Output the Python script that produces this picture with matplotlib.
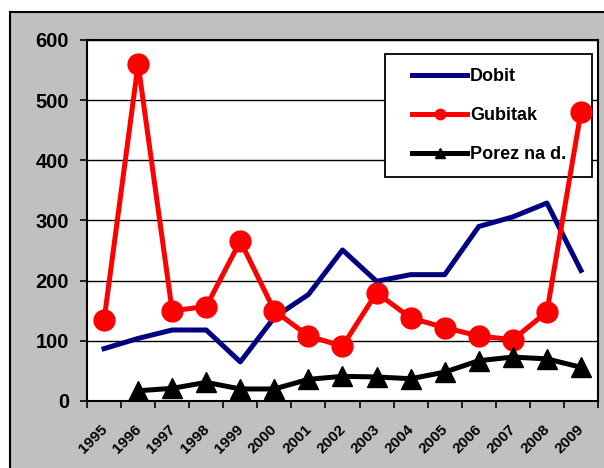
import numpy as np
import matplotlib
matplotlib.use("Agg")
from matplotlib import pyplot as plt
from matplotlib.patches import Rectangle
from matplotlib.transforms import ScaledTranslation

# Data
years = ['1995', '1996', '1997', '1998', '1999', '2000', '2001', '2002',
         '2003', '2004', '2005', '2006', '2007', '2008', '2009']
dobit = [87, 104, 118, 118, 65, 139, 177, 251, 199, 210, 210, 290, 306, 329, 217]
gubitak = [134, 560, 150, 157, 266, 150, 108, 91, 180, 138, 122, 108, 102, 148, 481]
porez = [np.nan, 17, 21, 31, 20, 20, 36, 41, 40, 37, 48, 67, 73, 70, 56]

plt.rcParams['font.family'] = ['Liberation Sans', 'DejaVu Sans']
plt.rcParams['font.weight'] = 'bold'

W, H = 604, 468
fig = plt.figure(figsize=(W / 100, H / 100), dpi=100)
fig.patch.set_facecolor('white')

# Grey chart-area box (Excel style)
fig.patches.append(Rectangle((10 / W, -0.05), 1.0, 1 - 12 / H + 0.05,
                             transform=fig.transFigure, facecolor='#C0C0C0',
                             edgecolor='black', linewidth=1.5, zorder=-10))

# plot area in pixels: x 87..598, y 40..401
ax = fig.add_axes([87 / W, (H - 401) / H, 511 / W, 361 / H])
ax.set_facecolor('white')

x = np.arange(len(years))
ax.plot(x, dobit, color='#000080', lw=3.6, label='Dobit', zorder=3)
ax.plot(x, gubitak, color='#FF0000', lw=3.6, marker='o', markersize=15,
        label='Gubitak', zorder=3)
ax.plot(x, porez, color='black', lw=3.6, marker='^', markersize=15,
        label='Porez na d.', zorder=3)

ax.set_ylim(0, 600)
ax.set_yticks(range(0, 601, 100))
ax.set_xlim(-0.5, len(years) - 0.5)
ax.set_xticks(np.arange(-0.5, len(years), 1.0))
ax.set_xticklabels([])
ax.set_xticks(x, minor=True)
ax.set_xticklabels(years, minor=True, rotation=45, ha='right',
                   rotation_mode='anchor', fontsize=11, fontweight='bold')
ax.tick_params(axis='x', which='minor', length=0, pad=15)
ax.tick_params(axis='both', which='major', direction='out', length=5,
               width=1.2, color='black')
ax.tick_params(axis='y', labelsize=14.5, pad=8)
for lab in ax.get_yticklabels():
    lab.set_fontweight('bold')
shift = ScaledTranslation(-3 / 72, 0, fig.dpi_scale_trans)
for lab in ax.get_xticklabels(minor=True):
    lab.set_transform(lab.get_transform() + shift)

ax.yaxis.grid(True, color='black', lw=1.0)
ax.set_axisbelow(True)
for s in ax.spines.values():
    s.set_linewidth(1.5)
    s.set_color('black')

# legend frame: pixels x 385..592, y 54..177
def px_to_ax(px, py):
    return (px - 87) / 511, 1 - (py - 40) / 361

fx0, fy1 = px_to_ax(385, 54)
fx1, fy0 = px_to_ax(592, 177)
ax.add_patch(Rectangle((fx0, fy0), fx1 - fx0, fy1 - fy0, transform=ax.transAxes,
                       facecolor='white', edgecolor='black', lw=1.3, zorder=2.5))

lx, ly = px_to_ax(412, 68)
leg = ax.legend(loc='upper left', bbox_to_anchor=(lx, ly), fontsize=13,
                markerscale=0.5, handlelength=3.05, labelspacing=1.22,
                borderpad=0, borderaxespad=0, handletextpad=0.17,
                frameon=False)
leg.set_zorder(2.6)
for t in leg.get_texts():
    t.set_fontweight('bold')

fig.savefig('out.png', dpi=100, facecolor=fig.get_facecolor())
